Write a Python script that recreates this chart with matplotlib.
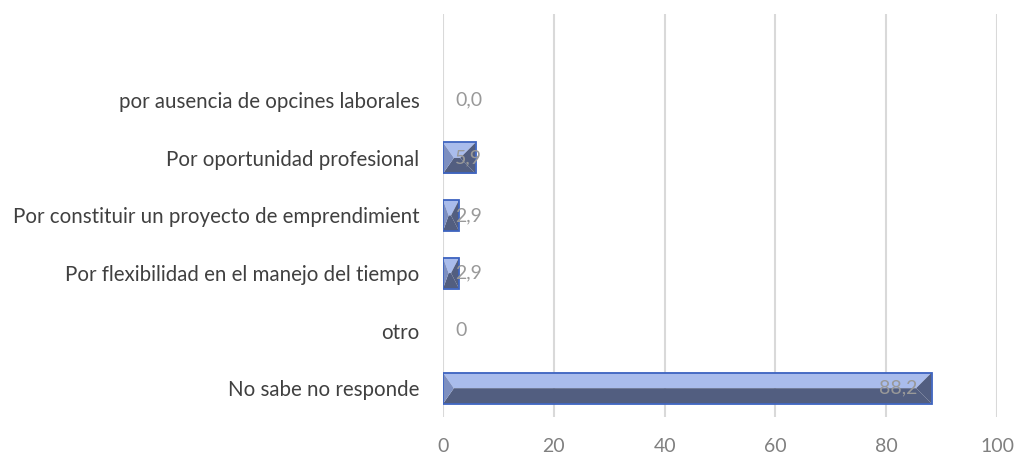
import numpy as np
import matplotlib.pyplot as plt
from matplotlib.patches import Polygon, Rectangle

# categories from top to bottom, as in the picture
categories = ['por ausencia de opcines laborales',
              'Por oportunidad profesional',
              'Por constituir un proyecto de emprendimient',
              'Por flexibilidad en el manejo del tiempo',
              'otro',
              'No sabe no responde']
values = [0.0, 5.9, 2.9, 2.9, 0.0, 88.2]
labels = ['0,0', '5,9', '2,9', '2,9', '0', '88,2']
xticks = [0, 20, 40, 60, 80, 100]

plt.rcParams['font.family'] = ['Lato', 'DejaVu Sans']

fig = plt.figure(figsize=(10.14, 4.55), dpi=100)
ax = fig.add_axes([443/1014, 1-417/455, 554/1014, 403/455])
ax.set_xlim(0, 100)
ax.set_ylim(-0.5, 6.5)

n = len(categories)
ypos = np.arange(n)[::-1]          # top category highest, empty slot above
bar_h = 0.54

# bevel depth in data units (about half bar height in pixels)
ax_w_px = 554
ax_h_px = 403
half_px = bar_h / 7 * ax_h_px / 2
depth = half_px / (ax_w_px / 100)

light = '#a9bcec'
dark = '#525e80'
mid = '#7d8fc0'
edge = '#3e64c0'

for y, v in zip(ypos, values):
    if v <= 0:
        continue
    x0, x1 = 0, v
    yt, yb = y + bar_h/2, y - bar_h/2
    d = min(depth, v/2)
    il = (x0 + d*0.7, y)
    ir = (x1 - d, y)
    ax.add_patch(Polygon([(x0, yt), (x1, yt), ir, il], closed=True, fc=light, ec='none', zorder=3))
    ax.add_patch(Polygon([(x0, yb), (x1, yb), ir, il], closed=True, fc=dark, ec='none', zorder=3))
    ax.add_patch(Polygon([(x0, yt), il, (x0, yb)], closed=True, fc=mid, ec='none', zorder=3))
    ax.add_patch(Polygon([(x1, yt), ir, (x1, yb)], closed=True, fc=dark, ec='none', zorder=3))
    ax.add_patch(Rectangle((x0, yb), v, bar_h, fc='none', ec=edge, lw=1.3, zorder=4))

# data labels
for y, v, lab in zip(ypos, values, labels):
    if v > 50:
        ax.text(v - 2.5, y, lab, ha='right', va='center', fontsize=14, color='#999999', zorder=5)
    else:
        ax.text(2.2, y, lab, ha='left', va='center', fontsize=14, color='#999999', zorder=5)

ax.set_yticks(ypos)
ax.set_yticklabels(categories, fontsize=14.8, color='#404040')
ax.set_xticks(xticks)
ax.set_xticklabels([str(t) for t in xticks], fontsize=14, color='#808080')
ax.tick_params(length=0)
ax.tick_params(axis='y', pad=17)
ax.tick_params(axis='x', pad=15)
for s in ax.spines.values():
    s.set_visible(False)
ax.grid(axis='x', color='#d9d9d9', lw=1.5, zorder=0)
ax.set_axisbelow(True)

fig.savefig('out.png', dpi=100)
